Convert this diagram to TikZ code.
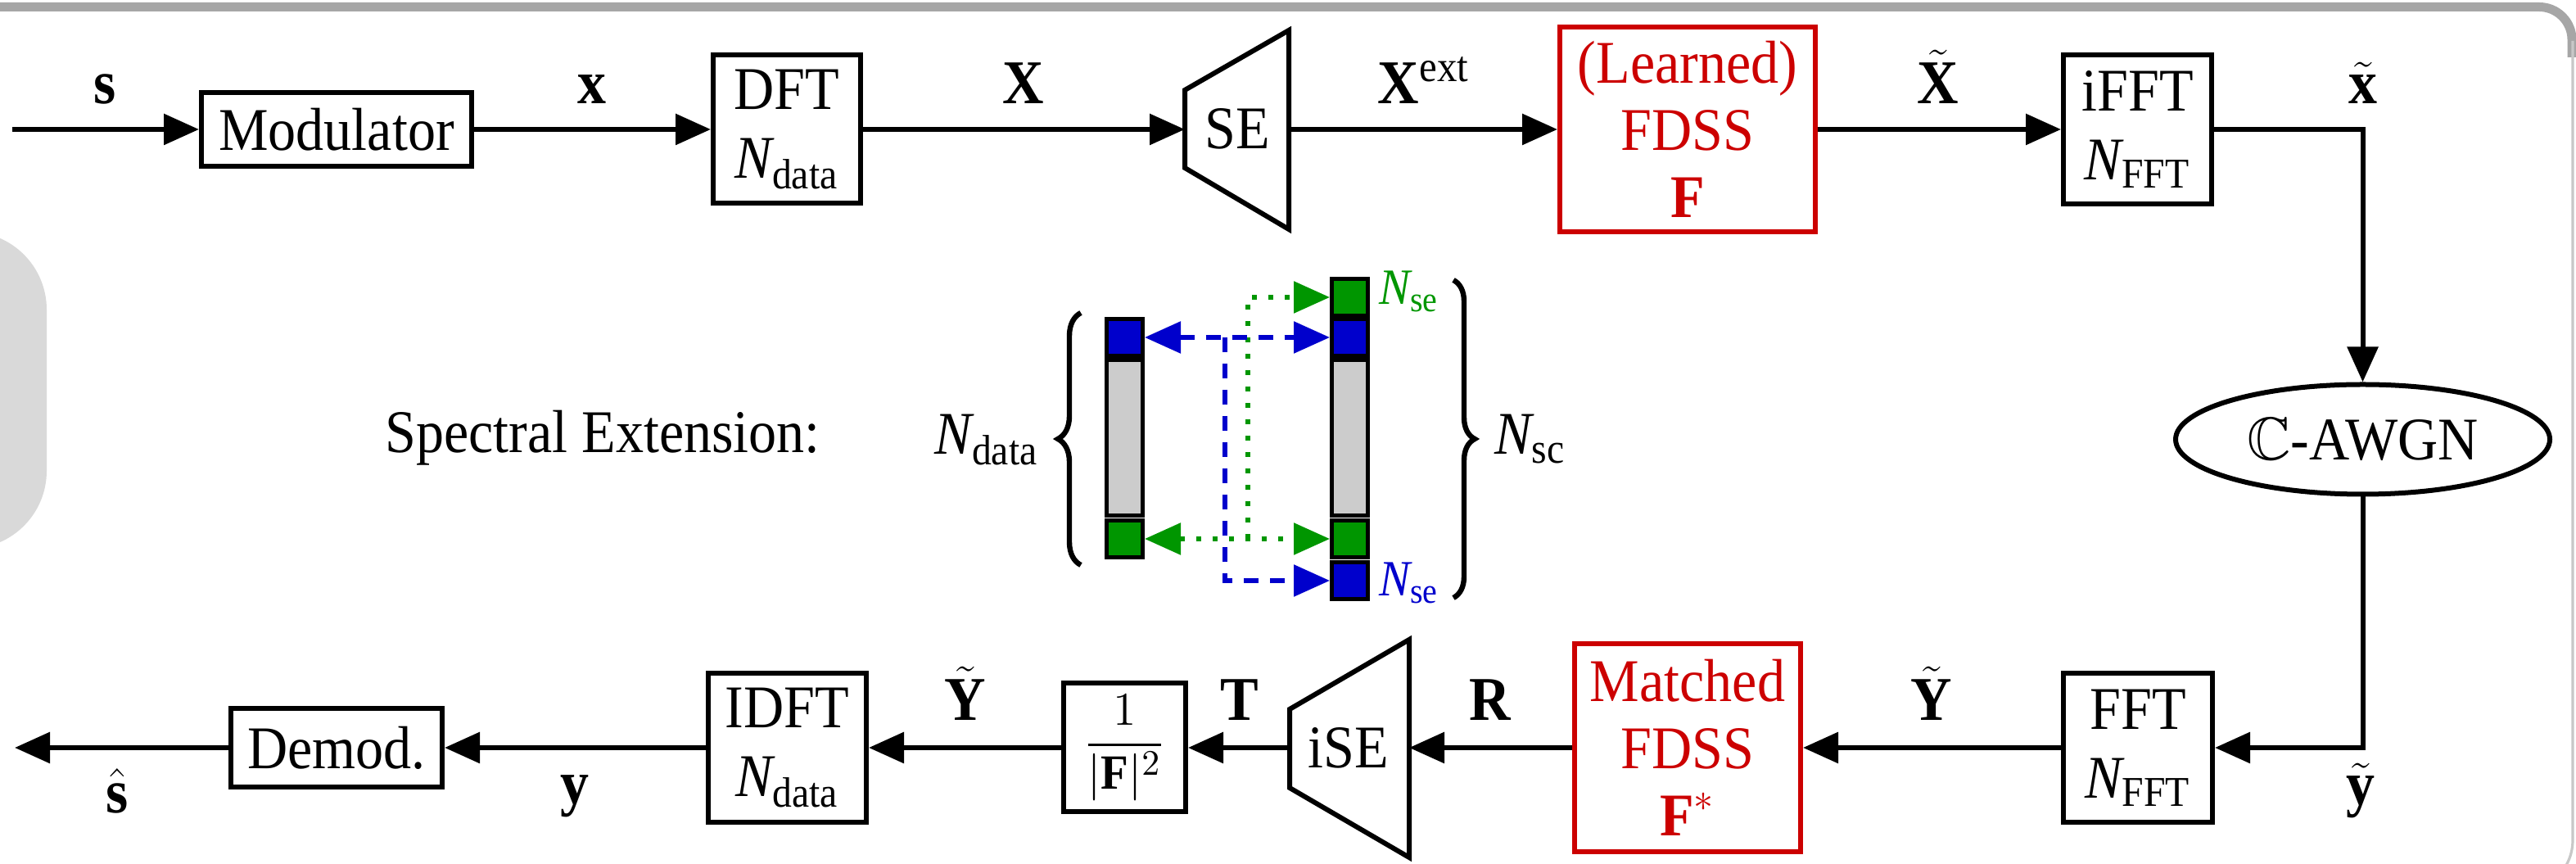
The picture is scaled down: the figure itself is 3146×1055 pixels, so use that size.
\documentclass[tikz,border=0pt]{standalone}
\usepackage{amsmath,amssymb}
\usepackage{fontspec}
\setmainfont{Liberation Serif}[FakeStretch=0.92]
\usetikzlibrary{arrows.meta,decorations.pathreplacing,shapes.geometric}

\definecolor{myred}{RGB}{204,0,0}
\definecolor{myblue}{RGB}{0,0,204}
\definecolor{mygreen}{RGB}{0,150,0}
\definecolor{cellgray}{RGB}{204,204,204}
\definecolor{framegray}{RGB}{166,166,166}
\definecolor{edgegray}{RGB}{200,200,200}
\definecolor{tabgray}{RGB}{217,217,217}

\newcommand{\Nsub}[1]{$\textit{N}_{\text{#1}}$}

\begin{document}
\begin{tikzpicture}[x=0.25pt,y=-0.25pt,
  font=\fontsize{18.5}{21}\selectfont,
  blk/.style={draw,line width=1.5pt,inner sep=0pt,align=center},
  redblk/.style={blk,draw=myred,text=myred,font=\fontsize{18.5}{20.5}\selectfont},
  conn/.style={line width=1.5pt,-{Triangle[length=10.75pt,width=9.25pt]}},
  tipA/.tip={Triangle[length=11pt,width=9.5pt]},
  lab/.style={anchor=base,inner sep=0pt,font=\fontsize{19}{22}\selectfont},
  cellst/.style={draw,line width=1.25pt,inner sep=0pt,minimum width=11pt},
  small cell/.style={cellst,minimum height=11.25pt},
  bluedash/.style={draw=myblue,line width=1.4pt,dash pattern=on 4.5pt off 3.5pt},
  greendot/.style={draw=mygreen,line width=1.4pt,dash pattern=on 1.5pt off 3.5pt},
  bracest/.style={line width=1.6pt,decorate},
]
\useasboundingbox (0,0) rectangle (3146,1055);
\clip (0,0) rectangle (3146,1055);

% frame remnants
\fill[tabgray,rounded corners=23.75pt] (-100,283) rectangle (57,670);
\draw[framegray,line width=2.75pt,rounded corners=10pt] (-20,8.5) -- (3141,8.5) -- (3141,70);
\draw[edgegray,line width=0.8pt] (3142,50) -- (3142,1025) .. controls (3142,1040) and (3138,1050) .. (3132,1060);

% ---------- top row ----------
\coordinate (in) at (15,158);
\node[blk,minimum width=82.5pt,minimum height=22.5pt] (mod) at (411,158) {Modulator};
\node[blk,minimum width=45pt,minimum height=45.25pt] (dft) at (961,158) {DFT\\\Nsub{data}};
\draw[line width=1.5pt,line join=miter] (1447,110) -- (1574,37) -- (1574,280) -- (1447,205) -- cycle;
\node[inner sep=0pt] (se) at (1511,157) {SE};
\coordinate (seL) at (1447,158);
\coordinate (seR) at (1574,158);
\node[redblk,minimum width=78pt,minimum height=62.5pt] (fdss) at (2061,158) {(Learned)\\FDSS\\\textbf{F}};
\node[blk,minimum width=45.25pt,minimum height=45.5pt] (ifft) at (2610.5,158) {iFFT\\\Nsub{FFT}};
\node[blk,ellipse,minimum width=114.25pt,minimum height=33.5pt] (awgn) at (2885.5,536.5) {$\mathbb{C}$-AWGN};

% ---------- bottom row ----------
\node[blk,minimum width=45.5pt,minimum height=45.5pt] (fft) at (2611,913) {FFT\\\Nsub{FFT}};
\node[redblk,minimum width=69pt,minimum height=63.5pt] (mfdss) at (2061,913) {Matched\\FDSS\\$\textbf{F}^{*}$};
\draw[line width=1.5pt,line join=miter] (1721,781) -- (1575,866) -- (1575,962) -- (1721,1047) -- cycle;
\node[inner sep=0pt] (ise) at (1647,913) {iSE};
\coordinate (iseL) at (1575,913);
\coordinate (iseR) at (1721,913);
\node[blk,minimum width=37.25pt,minimum height=39.25pt,font=\fontsize{15}{17}\selectfont] (frac) at (1373.5,913) {$\displaystyle\frac{1}{|\textbf{F}|^{2}}$};
\node[blk,minimum width=48.25pt,minimum height=45.5pt] (idft) at (961.5,913) {IDFT\\\Nsub{data}};
\node[blk,minimum width=64.5pt,minimum height=24pt] (demod) at (411,913) {Demod.};
\coordinate (out) at (18,913);

% ---------- connectors ----------
\draw[conn] (in) -- (mod);
\draw[conn] (mod) -- (dft);
\draw[conn] (dft) -- (seL);
\draw[conn] (seR) -- (fdss);
\draw[conn] (fdss) -- (ifft);
\draw[conn] (ifft.east) -| (awgn.north);
\draw[conn] (awgn.south) |- (fft.east);
\draw[conn] (fft) -- (mfdss);
\draw[conn] (mfdss) -- (iseR);
\draw[conn] (iseL) -- (frac);
\draw[conn] (frac) -- (idft);
\draw[conn] (idft) -- (demod);
\draw[conn] (demod) -- (out);

% ---------- labels ----------
\node[lab] (ls) at (128,127) {\textbf{s}};
\node[lab] (lx) at (723,127) {\textbf{x}};
\node[lab] (lX) at (1250,127) {\textbf{X}};
\node[lab] (lXe) at (1739,127) {$\textbf{X}^{\text{ext}}$};
\node[lab] (lXt) at (2367,127) {$\tilde{\textbf{X}}$};
\node[lab] (lxt) at (2886,127) {$\tilde{\textbf{x}}$};
\node[lab] (lyt) at (2883,983) {$\tilde{\textbf{y}}$};
\node[lab] (lYt1) at (2359,880) {$\tilde{\textbf{Y}}$};
\node[lab] (lR) at (1820,880) {\textbf{R}};
\node[lab] (lT) at (1514,880) {\textbf{T}};
\node[lab] (lYt2) at (1179,880) {$\tilde{\textbf{Y}}$};
\node[lab] (ly) at (702,982) {\textbf{y}};
\node[lab] (lsh) at (143,993) {$\hat{\textbf{s}}$};

% ---------- spectral extension ----------
\node[anchor=base,inner sep=0pt] (spec) at (736,553) {Spectral Extension:};

\node[small cell,fill=myblue] (lb) at (1373.5,412) {};
\node[cellst,fill=cellgray,minimum height=47.5pt] (lgy) at (1373.5,534.5) {};
\node[small cell,fill=mygreen] (lg) at (1373.5,658) {};

\node[small cell,fill=mygreen] (rg1) at (1648.5,363) {};
\node[small cell,fill=myblue] (rb1) at (1648.5,412) {};
\node[cellst,fill=cellgray,minimum height=47.5pt] (rgy) at (1648.5,534.5) {};
\node[small cell,fill=mygreen] (rg2) at (1648.5,658) {};
\node[small cell,fill=myblue] (rb2) at (1648.5,709) {};

\coordinate (bv) at (1496,412);
\coordinate (gv) at (1524,658);
\draw[greendot,{tipA}-{tipA}] (lg) -- (rg2);
\draw[greendot,-{tipA}] (gv) |- (rg1);
\draw[bluedash,{tipA}-{tipA}] (lb) -- (rb1);
\draw[bluedash,-{tipA}] (bv) |- (rb2);

\coordinate (lbr1) at (1320,690);
\coordinate (lbr2) at (1320,382);
\coordinate (rbr1) at (1775,342);
\coordinate (rbr2) at (1775,730);
\draw[bracest,decoration={brace,amplitude=7pt}] (lbr1) -- (lbr2);
\draw[bracest,decoration={brace,amplitude=6.5pt}] (rbr1) -- (rbr2);

\node[anchor=base,inner sep=0pt] (ndata) at (1205,555) {\Nsub{data}};
\node[anchor=base,inner sep=0pt] (nsc) at (1869,555) {\Nsub{sc}};
\node[anchor=base,inner sep=0pt,text=mygreen,font=\fontsize{15.5}{17}\selectfont] (nse1) at (1721,372) {\Nsub{se}};
\node[anchor=base,inner sep=0pt,text=myblue,font=\fontsize{15.5}{17}\selectfont] (nse2) at (1721,728) {\Nsub{se}};
\end{tikzpicture}
\end{document}
